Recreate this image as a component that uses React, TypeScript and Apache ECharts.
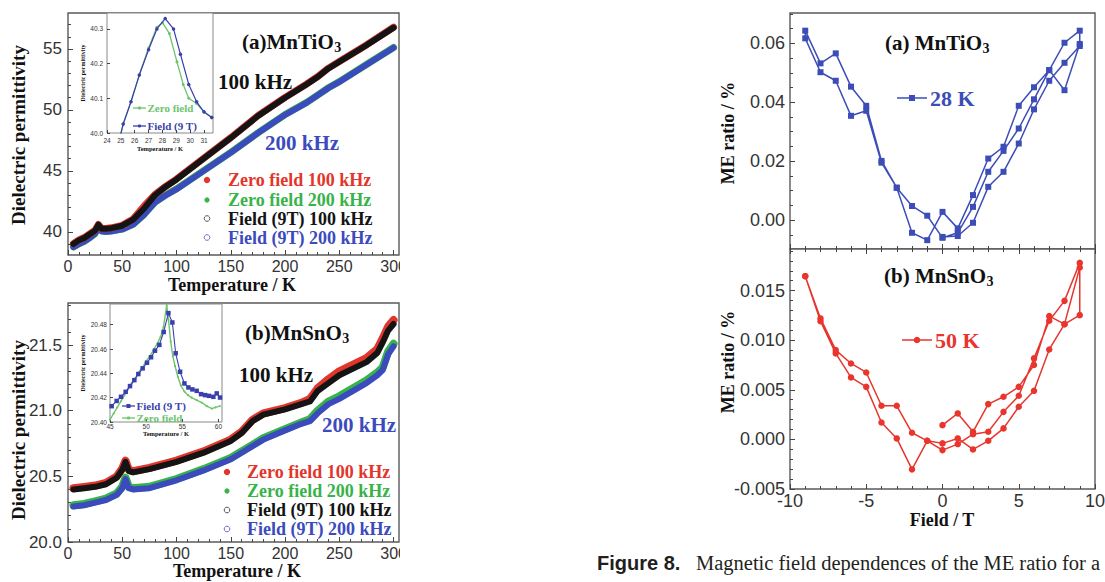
import React, { useEffect, useRef } from 'react';
import * as echarts from 'echarts';

// ---------- Dielectric permittivity, (a) MnTiO3 ----------
const tempTi = [5, 10, 15, 20, 25, 28, 31, 35, 40, 50, 60, 70, 80, 90, 100, 125, 150, 175, 200, 220, 230, 240, 250, 275, 300];
const tiZero100 = [39.03, 39.33, 39.53, 39.83, 40.13, 40.6, 40.28, 40.28, 40.33, 40.53, 41.05, 42.1, 43.05, 43.73, 44.33, 46.03, 47.73, 49.53, 51.03, 52.13, 52.73, 53.43, 53.98, 55.33, 56.78];
const tiField100 = [39.0, 39.3, 39.5, 39.8, 40.1, 40.58, 40.25, 40.25, 40.3, 40.5, 41.0, 41.9, 43.0, 43.7, 44.3, 46.0, 47.7, 49.5, 51.0, 52.1, 52.7, 53.4, 53.95, 55.3, 56.75];
const tiZero200 = [38.77, 39.02, 39.22, 39.52, 39.87, 40.37, 40.07, 40.02, 40.07, 40.22, 40.62, 41.42, 42.42, 43.02, 43.52, 45.02, 46.52, 48.12, 49.62, 50.62, 51.22, 51.82, 52.32, 53.72, 55.12];
const tiField200 = [38.75, 39.0, 39.2, 39.5, 39.85, 40.35, 40.05, 40.0, 40.05, 40.2, 40.6, 41.4, 42.4, 43.0, 43.5, 45.0, 46.5, 48.1, 49.6, 50.6, 51.2, 51.8, 52.3, 53.7, 55.1];

// inset (a)
const insetTiTempField = [24.95, 25.17, 25.73, 26.33, 27.0, 27.6, 28.2, 28.8, 29.3, 29.9, 30.47, 31.0, 31.56];
const insetTiField = [39.99, 40.026, 40.09, 40.167, 40.24, 40.3, 40.33, 40.3, 40.227, 40.14, 40.09, 40.061, 40.045];
const insetTiTempZero = [24.95, 25.17, 25.73, 26.33, 27.0, 27.6, 28.0, 28.5, 29.05, 29.5, 29.9, 30.47, 31.0, 31.56];
const insetTiZero = [39.99, 40.026, 40.09, 40.167, 40.245, 40.305, 40.318, 40.287, 40.205, 40.14, 40.1, 40.085, 40.06, 40.045];

// ---------- Dielectric permittivity, (b) MnSnO3 ----------
const tempSn = [5, 15, 25, 35, 45, 50, 53, 56, 60, 75, 100, 125, 150, 160, 170, 180, 200, 215, 223, 230, 240, 250, 275, 285, 290, 295, 300];
const snField100 = [20.4, 20.41, 20.42, 20.44, 20.49, 20.55, 20.61, 20.54, 20.53, 20.555, 20.61, 20.68, 20.77, 20.83, 20.92, 20.97, 21.01, 21.05, 21.07, 21.15, 21.21, 21.27, 21.37, 21.44, 21.52, 21.61, 21.66];
const snZero100 = [20.41, 20.42, 20.43, 20.45, 20.5, 20.56, 20.62, 20.55, 20.54, 20.565, 20.62, 20.69, 20.78, 20.84, 20.93, 20.98, 21.02, 21.06, 21.09, 21.17, 21.24, 21.3, 21.4, 21.47, 21.55, 21.64, 21.69];
const snField200 = [20.27, 20.28, 20.3, 20.32, 20.36, 20.41, 20.48, 20.41, 20.4, 20.41, 20.47, 20.545, 20.63, 20.68, 20.73, 20.78, 20.85, 20.9, 20.92, 20.98, 21.05, 21.09, 21.21, 21.27, 21.31, 21.43, 21.49];
const snZero200 = [20.28, 20.29, 20.31, 20.33, 20.37, 20.42, 20.49, 20.42, 20.41, 20.42, 20.48, 20.555, 20.64, 20.69, 20.74, 20.79, 20.86, 20.91, 20.935, 21.0, 21.07, 21.11, 21.23, 21.29, 21.33, 21.45, 21.51];

// inset (b)
const insetSnTempField = [45.23, 45.92, 46.52, 47.17, 47.77, 48.37, 48.92, 49.52, 50.12, 50.68, 51.23, 51.83, 52.43, 53.08, 53.63, 54.09, 54.7, 55.3, 55.85, 56.4, 57.0, 57.6, 58.16, 58.7, 59.3, 59.77, 60.23];
const insetSnField = [20.413, 20.4173, 20.4207, 20.4248, 20.4295, 20.4344, 20.4394, 20.4441, 20.4487, 20.4532, 20.4586, 20.4634, 20.474, 20.4895, 20.4818, 20.4565, 20.4413, 20.4317, 20.4284, 20.4268, 20.4256, 20.4229, 20.4221, 20.4215, 20.4207, 20.4235, 20.4201];
const insetSnTempZero = [45.0, 45.5, 46.0, 46.5, 47.0, 47.5, 48.0, 48.5, 49.0, 49.5, 50.0, 50.5, 51.0, 51.5, 52.0, 52.4, 52.85, 53.1, 53.4, 53.7, 54.0, 54.4, 54.8, 55.3, 55.8, 56.3, 57.0, 57.7, 58.4, 59.1, 59.6, 60.2];
const insetSnZero = [20.402, 20.407, 20.412, 20.417, 20.422, 20.427, 20.432, 20.436, 20.441, 20.445, 20.45, 20.454, 20.459, 20.464, 20.47, 20.478, 20.496, 20.484, 20.466, 20.454, 20.446, 20.437, 20.43, 20.425, 20.422, 20.42, 20.418, 20.416, 20.413, 20.411, 20.412, 20.413];

// ---------- ME ratio loops ----------
const fieldUpFromZero = [0, 1, 2, 3, 4, 5, 6, 7, 8, 9];
const fieldDown = [9, 8, 7, 6, 5, 4, 3, 2, 1, 0, -1, -2, -3, -4, -5, -6, -7, -8, -9];
const fieldUp = [-9, -8, -7, -6, -5, -4, -3, -2, -1, 0, 1, 2, 3, 4, 5, 6, 7, 8, 9];

const meTiUp0 = [-0.0057, -0.0054, -0.0009, 0.0113, 0.0164, 0.026, 0.0376, 0.0473, 0.0534, 0.0591];
const meTiDown = [0.0643, 0.0602, 0.0509, 0.0451, 0.0388, 0.0249, 0.0209, 0.0085, -0.0028, 0.0028, -0.0068, -0.0043, 0.011, 0.0201, 0.0388, 0.0453, 0.0566, 0.0532, 0.0643];
const meTiUp = [0.0617, 0.0502, 0.0473, 0.0354, 0.0371, 0.0195, 0.011, 0.0048, 0.0015, -0.006, -0.0043, 0.0045, 0.0164, 0.0235, 0.0311, 0.041, 0.0509, 0.0441, 0.0598];

const meSnUp0 = [0.00144, 0.00262, 0.00077, 0.00356, 0.0043, 0.0053, 0.0075, 0.01243, 0.01162, 0.01253];
const meSnDown = [0.0178, 0.01397, 0.01196, 0.00817, 0.0044, 0.00278, 0.00077, 0.00053, -0.00047, -0.00108, -0.00014, -0.00302, 0.0001, 0.00171, 0.0053, 0.00625, 0.00867, 0.01192, 0.01646];
const meSnUp = [0.01646, 0.0122, 0.009, 0.00766, 0.00675, 0.00339, 0.00339, 0.00067, -0.00014, -0.0004, 0.0001, -0.00101, -0.00014, 0.00111, 0.00329, 0.0049, 0.00907, 0.01162, 0.01734];

// ---------- tick values ----------
const tempTicks = [0, 50, 100, 150, 200, 250, 300];
const tempMinor = [10, 20, 30, 40, 60, 70, 80, 90, 110, 120, 130, 140, 160, 170, 180, 190, 210, 220, 230, 240, 260, 270, 280, 290];
const tiTicks = [40, 45, 50, 55];
const tiMinor = [39, 41, 42, 43, 44, 46, 47, 48, 49, 51, 52, 53, 54, 56, 57];
const snTicks = [20.0, 20.5, 21.0, 21.5];
const snMinor = [20.1, 20.2, 20.3, 20.4, 20.6, 20.7, 20.8, 20.9, 21.1, 21.2, 21.3, 21.4, 21.6, 21.7, 21.8];
const insetTiXTicks = [24, 25, 26, 27, 28, 29, 30, 31];
const insetTiYTicks = [40.0, 40.1, 40.2, 40.3];
const insetSnXTicks = [45, 50, 55, 60];
const insetSnYTicks = [20.4, 20.42, 20.44, 20.46, 20.48];
const fieldTicks = [-10, -5, 0, 5, 10];
const fieldMinor = [-9, -8, -7, -6, -4, -3, -2, -1, 1, 2, 3, 4, 6, 7, 8, 9];
const meTiTicks = [0, 0.02, 0.04, 0.06];
const meTiMinor = [-0.005, 0.005, 0.01, 0.015, 0.025, 0.03, 0.035, 0.045, 0.05, 0.055, 0.065, 0.07];
const meSnTicks = [-0.005, 0, 0.005, 0.01, 0.015];
const meSnMinor = [-0.004, -0.003, -0.002, -0.001, 0.001, 0.002, 0.003, 0.004, 0.006, 0.007, 0.008, 0.009, 0.011, 0.012, 0.013, 0.014, 0.016, 0.017, 0.018, 0.019];

const SANS = '"Liberation Sans", Arial, sans-serif';
const SERIF = '"Liberation Serif", "Times New Roman", serif';

const RED = '#e2352c';
const GREEN = '#37b34a';
const BLACK = '#141414';
const BLUE = '#3b4bbd';
const INSET_GREEN = '#6cc46c';
const INSET_BLUE = '#3a3fae';
const ME_BLUE = '#3d4db7';
const ME_RED = '#e8352d';

function zip(xs: number[], ys: number[]) {
  return xs.map((x, i) => [x, ys[i]]);
}

function buildOption() {
  const ctx = document.createElement('canvas').getContext('2d')!;
  const measure = (t: string, size: number, weight = 'bold', family = SERIF) => {
    ctx.font = `${weight} ${size}px ${family}`;
    return ctx.measureText(t).width;
  };

  const xAxes: any[] = [];
  const yAxes: any[] = [];

  const addAxes = (list: any[], s: any): number => {
    const base = {
      type: 'value',
      gridIndex: s.grid,
      min: s.min,
      max: s.max,
      position: s.pos,
      splitLine: { show: false },
      axisLine: { show: false, onZero: false },
      silent: true,
    };
    list.push({
      ...base,
      axisTick: {
        show: true,
        inside: true,
        length: s.majorLen ?? 5,
        customValues: s.major,
        lineStyle: { color: '#444', width: 1 },
      },
      axisLabel:
        s.showLabel === false
          ? { show: false }
          : {
              show: true,
              customValues: s.major,
              formatter: s.fmt ?? ((v: number) => String(v)),
              fontSize: s.size ?? 17,
              fontFamily: SANS,
              color: '#333',
              margin: s.margin ?? 6,
            },
    });
    const idx = list.length - 1;
    if (s.minor) {
      list.push({
        ...base,
        axisTick: {
          show: true,
          inside: true,
          length: s.minorLen ?? 3,
          customValues: s.minor,
          lineStyle: { color: '#444', width: 1 },
        },
        axisLabel: { show: false },
      });
    }
    return idx;
  };

  const grids = [
    { left: 68, top: 13, width: 331, height: 242 },
    { left: 107, top: 13, width: 106, height: 120 },
    { left: 68, top: 303, width: 331, height: 239 },
    { left: 110, top: 304, width: 112, height: 118 },
    { left: 790, top: 13, width: 305, height: 236 },
    { left: 790, top: 249, width: 305, height: 240 },
  ].map((g, i) => ({
    ...g,
    show: true,
    containLabel: false,
    outerBoundsMode: 'none',
    backgroundColor: '#fff',
    borderColor: i === 1 || i === 3 ? '#8a8a8a' : '#5a5a5a',
    borderWidth: i === 1 || i === 3 ? 1 : 1.4,
  }));

  // grid 0: main (a)
  const x0 = addAxes(xAxes, { grid: 0, min: 0, max: 305, pos: 'bottom', major: tempTicks, minor: tempMinor, size: 16, margin: 3 });
  const y0 = addAxes(yAxes, { grid: 0, min: 38.1, max: 57.95, pos: 'left', major: tiTicks, minor: tiMinor });
  // grid 1: inset (a)
  const x1 = addAxes(xAxes, { grid: 1, min: 24, max: 31.65, pos: 'bottom', major: insetTiXTicks, size: 6.5, margin: 4, majorLen: 3 });
  const y1 = addAxes(yAxes, { grid: 1, min: 40.0, max: 40.346, pos: 'left', major: insetTiYTicks, size: 6.5, margin: 4, majorLen: 3, fmt: (v: number) => v.toFixed(1) });
  // grid 2: main (b)
  const x2 = addAxes(xAxes, { grid: 2, min: 0, max: 305, pos: 'bottom', major: tempTicks, minor: tempMinor, size: 16, margin: 3 });
  const y2 = addAxes(yAxes, { grid: 2, min: 20.0, max: 21.82, pos: 'left', major: snTicks, minor: snMinor, fmt: (v: number) => v.toFixed(1) });
  // grid 3: inset (b)
  const x3 = addAxes(xAxes, { grid: 3, min: 45, max: 60.5, pos: 'bottom', major: insetSnXTicks, size: 6.5, margin: 1, majorLen: 3 });
  const y3 = addAxes(yAxes, { grid: 3, min: 20.4, max: 20.497, pos: 'left', major: insetSnYTicks, size: 6.5, margin: 3, majorLen: 3, fmt: (v: number) => v.toFixed(2) });
  // grid 4: ME (a)
  const x4 = addAxes(xAxes, { grid: 4, min: -10, max: 10, pos: 'bottom', major: fieldTicks, minor: fieldMinor, showLabel: false });
  const y4 = addAxes(yAxes, { grid: 4, min: -0.0098, max: 0.0703, pos: 'left', major: meTiTicks, minor: meTiMinor, size: 18, margin: 5, fmt: (v: number) => v.toFixed(2) });
  // grid 5: ME (b)
  const x5 = addAxes(xAxes, { grid: 5, min: -10, max: 10, pos: 'bottom', major: fieldTicks, minor: fieldMinor, size: 18, margin: 3 });
  addAxes(xAxes, { grid: 5, min: -10, max: 10, pos: 'top', major: fieldTicks, minor: fieldMinor, showLabel: false });
  const y5 = addAxes(yAxes, { grid: 5, min: -0.005, max: 0.0192, pos: 'left', major: meSnTicks, minor: meSnMinor, size: 18, margin: 5, fmt: (v: number) => v.toFixed(3) });

  const band = (xi: number, yi: number, xs: number[], ys: number[], color: string, width: number, z: number) => ({
    type: 'line',
    xAxisIndex: xi,
    yAxisIndex: yi,
    data: zip(xs, ys),
    showSymbol: false,
    lineStyle: { color, width, cap: 'round', join: 'round' },
    itemStyle: { color },
    silent: true,
    z,
  });
  const marked = (xi: number, yi: number, data: number[][], color: string, symbol: string, size: number, width: number, z = 5) => ({
    type: 'line',
    xAxisIndex: xi,
    yAxisIndex: yi,
    data,
    showSymbol: true,
    symbol,
    symbolSize: size,
    lineStyle: { color, width },
    itemStyle: { color, borderWidth: 0 },
    silent: true,
    clip: true,
    z,
  });

  const series: any[] = [
    band(x0, y0, tempTi, tiZero200, GREEN, 7, 2),
    band(x0, y0, tempTi, tiField200, BLUE, 6, 3),
    band(x0, y0, tempTi, tiZero100, RED, 7, 4),
    band(x0, y0, tempTi, tiField100, BLACK, 6, 5),
    marked(x1, y1, zip(insetTiTempZero, insetTiZero), INSET_GREEN, 'circle', 3, 1.3, 6),
    marked(x1, y1, zip(insetTiTempField, insetTiField), INSET_BLUE, 'circle', 3.5, 1.2, 7),
    band(x2, y2, tempSn, snZero200, GREEN, 8, 2),
    band(x2, y2, tempSn, snField200, BLUE, 6, 3),
    band(x2, y2, tempSn, snZero100, RED, 8, 4),
    band(x2, y2, tempSn, snField100, BLACK, 6, 5),
    marked(x3, y3, zip(insetSnTempZero, insetSnZero), INSET_GREEN, 'circle', 2, 1.4, 6),
    marked(x3, y3, zip(insetSnTempField, insetSnField), INSET_BLUE, 'rect', 4.5, 1.1, 7),
    marked(
      x4,
      y4,
      [...zip(fieldUpFromZero, meTiUp0), ...zip(fieldDown, meTiDown), ...zip(fieldUp, meTiUp)],
      ME_BLUE,
      'rect',
      6,
      1.5
    ),
    marked(
      x5,
      y5,
      [...zip(fieldUpFromZero, meSnUp0), ...zip(fieldDown, meSnDown), ...zip(fieldUp, meSnUp)],
      ME_RED,
      'circle',
      6.5,
      1.5
    ),
  ];

  const graphics: any[] = [];
  const text = (x: number, y: number, t: string, o: any = {}) => {
    graphics.push({
      type: 'text',
      x,
      y,
      rotation: o.rot ?? 0,
      z: 100,
      silent: true,
      style: {
        text: t,
        fill: o.color ?? '#111',
        fontSize: o.size ?? 18,
        fontFamily: o.family ?? SERIF,
        fontWeight: o.weight ?? 'bold',
        textAlign: o.align ?? 'left',
        textVerticalAlign: 'middle',
      },
    });
  };
  const chem = (x: number, y: number, main: string, size: number) => {
    text(x, y, main, { size });
    text(x + measure(main, size) + 0.5, y + size * 0.28, '3', { size: Math.round(size * 0.68) });
  };

  // mask reproducing the crop of the left figure at x=400
  graphics.push({ type: 'rect', z: 90, silent: true, shape: { x: 400, y: 0, width: 190, height: 582 }, style: { fill: '#fff' } });

  // left column
  chem(242, 42, '(a)MnTiO', 21);
  text(218, 82, '100 kHz', { size: 21 });
  text(265, 143, '200 kHz', { size: 21, color: BLUE });
  chem(245, 333, '(b)MnSnO', 21);
  text(239, 375, '100 kHz', { size: 21 });
  text(322, 425, '200 kHz', { size: 21, color: BLUE });

  const legendLeft = (sx: number, tx: number, ys: number[]) => {
    const labels = ['Zero field 100 kHz', 'Zero field 200 kHz', 'Field (9T) 100 kHz', 'Field (9T) 200 kHz'];
    const colors = [RED, GREEN, BLACK, BLUE];
    ys.forEach((y, i) => {
      if (i < 2) {
        graphics.push({ type: 'circle', z: 100, silent: true, shape: { cx: sx, cy: y, r: i === 0 ? 3.2 : 2.6 }, style: { fill: colors[i] } });
      } else {
        graphics.push({ type: 'circle', z: 100, silent: true, shape: { cx: sx, cy: y, r: 2.8 }, style: { fill: 'none', stroke: i === 2 ? '#555' : '#6670c8', lineWidth: 1 } });
      }
      text(tx, y, labels[i], { size: 18, color: colors[i] });
    });
  };
  legendLeft(207, 228, [180, 200, 218.5, 237.5]);
  legendLeft(227, 247, [472, 491, 510, 529]);

  text(18, 135, 'Dielectric permittivity', { size: 19, rot: Math.PI / 2, align: 'center' });
  text(18, 430, 'Dielectric permittivity', { size: 19, rot: Math.PI / 2, align: 'center' });
  text(232, 285, 'Temperature / K', { size: 18, align: 'center' });
  text(237, 571, 'Temperature / K', { size: 18, align: 'center' });

  // insets
  text(83, 73, 'Dielectric permittivity', { size: 6, rot: Math.PI / 2, align: 'center' });
  text(160, 148, 'Temperature / K', { size: 6.5, align: 'center' });
  text(83, 363, 'Dielectric permittivity', { size: 6, rot: Math.PI / 2, align: 'center' });
  text(166, 433, 'Temperature / K', { size: 6.5, align: 'center' });

  const insetLegend = (x1: number, x2: number, y: number, color: string, symbol: 'circle' | 'rect', label: string) => {
    graphics.push({ type: 'line', z: 100, silent: true, shape: { x1, y1: y, x2, y2: y }, style: { stroke: color, lineWidth: 1.3 } });
    const cx = (x1 + x2) / 2;
    if (symbol === 'circle') {
      graphics.push({ type: 'circle', z: 101, silent: true, shape: { cx, cy: y, r: 1.6 }, style: { fill: color } });
    } else {
      graphics.push({ type: 'rect', z: 101, silent: true, shape: { x: cx - 2, y: y - 2, width: 4, height: 4 }, style: { fill: color } });
    }
    text(x2 + 1.5, y, label, { size: 11, color });
  };
  insetLegend(133, 146, 108, INSET_GREEN, 'circle', 'Zero field');
  insetLegend(133, 146, 126, INSET_BLUE, 'circle', 'Field (9 T)');
  insetLegend(122, 135, 406, INSET_BLUE, 'rect', 'Field (9 T)');
  insetLegend(122, 135, 418, INSET_GREEN, 'circle', 'Zero field');

  // right column
  chem(885, 43, '(a) MnTiO', 21);
  chem(884, 276, '(b) MnSnO', 21);
  graphics.push({ type: 'line', z: 100, silent: true, shape: { x1: 897, y1: 98, x2: 927, y2: 98 }, style: { stroke: ME_BLUE, lineWidth: 1.5 } });
  graphics.push({ type: 'rect', z: 101, silent: true, shape: { x: 909, y: 95, width: 6, height: 6 }, style: { fill: ME_BLUE } });
  text(930, 98, '28 K', { size: 22, color: ME_BLUE });
  graphics.push({ type: 'line', z: 100, silent: true, shape: { x1: 902, y1: 340, x2: 932, y2: 340 }, style: { stroke: ME_RED, lineWidth: 1.5 } });
  graphics.push({ type: 'circle', z: 101, silent: true, shape: { cx: 917, cy: 340, r: 3.3 }, style: { fill: ME_RED } });
  text(935, 340, '50 K', { size: 22, color: ME_RED });

  text(728, 133, 'ME ratio / %', { size: 18, rot: Math.PI / 2, align: 'center' });
  text(728, 362, 'ME ratio / %', { size: 18, rot: Math.PI / 2, align: 'center' });
  text(942, 520, 'Field / T', { size: 18, align: 'center' });

  // caption
  text(597, 563, 'Figure 8.', { size: 20, family: SANS, color: '#231f20' });
  text(696, 563, 'Magnetic field dependences of the ME ratio for a', { size: 20.5, weight: 'normal', color: '#231f20' });

  return {
    animation: false,
    backgroundColor: '#fff',
    textStyle: { fontFamily: SANS },
    grid: grids,
    xAxis: xAxes,
    yAxis: yAxes,
    series,
    graphic: { elements: graphics },
  };
}

export default function App() {
  const ref = useRef<HTMLDivElement>(null);
  useEffect(() => {
    if (!ref.current) return;
    const chart = echarts.init(ref.current, null, { renderer: 'svg' });
    chart.setOption(buildOption() as any);
    return () => chart.dispose();
  }, []);
  return (
    <div
      ref={ref}
      style={{ width: 1105, height: 582, position: 'absolute', left: 0, top: 0, background: '#fff' }}
    />
  );
}
